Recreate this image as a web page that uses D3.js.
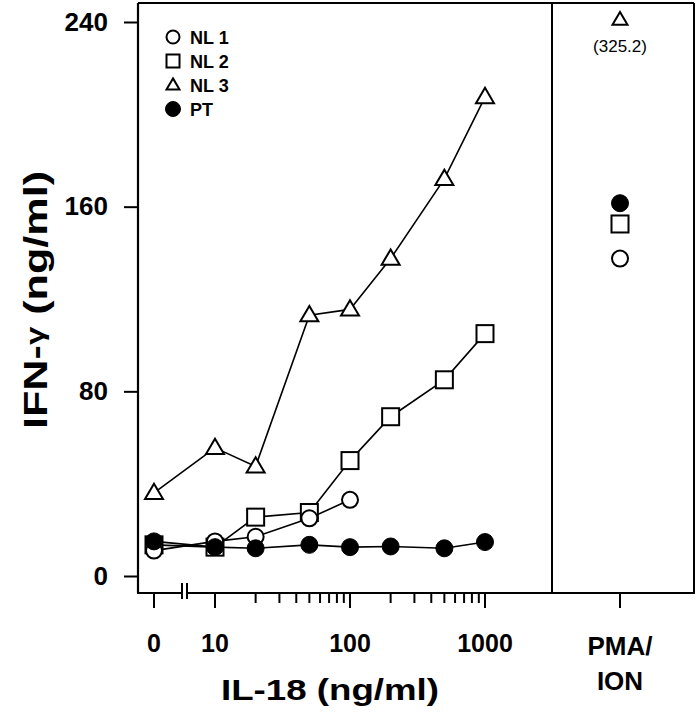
<!DOCTYPE html>
<html><head><meta charset="utf-8">
<script src="https://cdn.jsdelivr.net/npm/d3@7"></script>
<style>body{margin:0;background:#fff}svg{display:block;font-family:"Liberation Sans",Arial,sans-serif}</style>
</head><body>
<svg id="c" width="699" height="720"></svg>
<script>
// ---- data ----
const doses = [0, 10, 20, 50, 100, 200, 500, 1000];
const nl1 = [11, 15, 17, 25, 33];
const nl2 = [13.5, 12.5, 25.5, 27.5, 50, 69, 85, 105];
const nl3 = [36, 55.5, 47.5, 113, 115.5, 137.5, 172, 207.5];
const pt  = [15, 12.5, 12, 13.5, 12.5, 12.8, 12, 14.7];
const seriesNames = ["NL 1", "NL 2", "NL 3", "PT"];
const pmaValues = [137.5, 152.5, 325.2, 161.5]; // NL1, NL2, NL3, PT
const pmaCap = 241;
const yTicks = [0, 80, 160, 240];
const xMajorTicks = [10, 100, 1000];
const xMinorTicks = [20,30,40,50,60,70,80,90,200,300,400,500,600,700,800,900];
const xTickLabels = ["0", "10", "100", "1000"];

(function () {
// ---- layout ----
const svg = d3.select("#c");
const pLeft = 138, pTop = 3, pBottom = 593, pDivider = 552, pRight = 694;
const y = d3.scaleLinear().domain([0, 240]).range([576, 22]);
const xLog = d3.scaleLog().domain([10, 1000]).range([215, 485]);
const xZero = d3.scalePoint().domain([0]).range([154, 154]);
const xPos = d => d === 0 ? xZero(0) : xLog(d);
const xPma = d3.scalePoint().domain(["PMA/ION"]).range([620, 620]);

const black = "#000";

// frame
const g = svg.append("g");
g.append("line").attr("x1", pLeft).attr("x2", pRight).attr("y1", pTop).attr("y2", pTop).attr("stroke", black).attr("stroke-width", 2);
g.append("line").attr("x1", pLeft).attr("x2", pLeft).attr("y1", pTop).attr("y2", pBottom).attr("stroke", black).attr("stroke-width", 2.2);
g.append("line").attr("x1", pDivider).attr("x2", pDivider).attr("y1", pTop).attr("y2", pBottom).attr("stroke", black).attr("stroke-width", 2);
g.append("line").attr("x1", pRight).attr("x2", pRight).attr("y1", pTop).attr("y2", pBottom).attr("stroke", black).attr("stroke-width", 2);
// bottom axis with break
g.append("line").attr("x1", pLeft - 1).attr("x2", 182).attr("y1", pBottom).attr("y2", pBottom).attr("stroke", black).attr("stroke-width", 2.2);
g.append("line").attr("x1", 187).attr("x2", pRight + 1).attr("y1", pBottom).attr("y2", pBottom).attr("stroke", black).attr("stroke-width", 2.2);
[182, 187].forEach(bx => g.append("line").attr("x1", bx).attr("x2", bx).attr("y1", 583).attr("y2", 599).attr("stroke", black).attr("stroke-width", 2));

// y axis
const yAxis = d3.axisLeft(y).tickValues(yTicks).tickSize(14).tickPadding(16).tickFormat(d3.format("d"));
const ya = svg.append("g").attr("transform", `translate(${pLeft},0)`).call(yAxis);
ya.select(".domain").remove();
ya.selectAll(".tick line").attr("stroke-width", 2);
ya.selectAll(".tick text").attr("font-size", 26).attr("font-weight", "bold").attr("font-family", "Liberation Sans, Arial, sans-serif").attr("fill", black);

// x ticks
const xa = svg.append("g");
const majors = [0].concat(xMajorTicks);
xa.selectAll(".maj").data(majors).join("line")
  .attr("x1", d => xPos(d)).attr("x2", d => xPos(d)).attr("y1", pBottom).attr("y2", 608)
  .attr("stroke", black).attr("stroke-width", 2);
xa.selectAll(".min").data(xMinorTicks).join("line")
  .attr("x1", d => xPos(d)).attr("x2", d => xPos(d)).attr("y1", pBottom).attr("y2", 603)
  .attr("stroke", black).attr("stroke-width", 2);
xa.selectAll(".lab").data(majors).join("text")
  .attr("x", d => xPos(d)).attr("y", 652).attr("text-anchor", "middle")
  .attr("font-size", 25).attr("font-weight", "bold").text((d, i) => xTickLabels[i]);
// PMA tick
xa.append("line").attr("x1", xPma("PMA/ION")).attr("x2", xPma("PMA/ION")).attr("y1", pBottom).attr("y2", 608).attr("stroke", black).attr("stroke-width", 2);
const pmaLab = xa.append("text").attr("x", xPma("PMA/ION")).attr("text-anchor", "middle").attr("font-size", 26).attr("font-weight", "bold");
pmaLab.append("tspan").attr("x", xPma("PMA/ION")).attr("y", 655).text("PMA/");
pmaLab.append("tspan").attr("x", xPma("PMA/ION")).attr("y", 690).text("ION");

// axis titles
svg.append("text").attr("x", 330).attr("y", 700).attr("text-anchor", "middle")
  .attr("font-size", 30).attr("font-weight", "bold").attr("textLength", 218).attr("lengthAdjust", "spacingAndGlyphs")
  .text("IL-18 (ng/ml)");
const yt = svg.append("text").attr("transform", "translate(47,300) rotate(-90)").attr("text-anchor", "middle")
  .attr("font-size", 34).attr("font-weight", "bold").attr("textLength", 258).attr("lengthAdjust", "spacingAndGlyphs");
yt.append("tspan").text("IFN-");
yt.append("tspan").attr("font-size", 26).attr("dy", -3).text("γ");
yt.append("tspan").attr("dy", 3).text(" (ng/ml)");

// ---- markers ----
function drawMarker(sel, type, cx, cy, s) {
  if (type === "circle") {
    sel.append("circle").attr("cx", cx).attr("cy", cy).attr("r", s * 0.5).attr("fill", "#fff").attr("stroke", black).attr("stroke-width", 2);
  } else if (type === "square") {
    sel.append("rect").attr("x", cx - s / 2).attr("y", cy - s / 2).attr("width", s).attr("height", s).attr("fill", "#fff").attr("stroke", black).attr("stroke-width", 2);
  } else if (type === "triangle") {
    const h = s * 0.85;
    sel.append("path").attr("d", `M${cx},${cy - h * 0.6}L${cx + s / 2},${cy + h * 0.4}L${cx - s / 2},${cy + h * 0.4}Z`).attr("fill", "#fff").attr("stroke", black).attr("stroke-width", 2);
  } else {
    sel.append("circle").attr("cx", cx).attr("cy", cy).attr("r", s * 0.5).attr("fill", black).attr("stroke", black).attr("stroke-width", 1);
  }
}

const series = [
  {name: seriesNames[0], vals: nl1, type: "circle", size: 16},
  {name: seriesNames[1], vals: nl2, type: "square", size: 17},
  {name: seriesNames[2], vals: nl3, type: "triangle", size: 18},
  {name: seriesNames[3], vals: pt, type: "filled", size: 17}
];
const line = d3.line().x(d => xPos(d[0])).y(d => y(d[1]));
const plot = svg.append("g");
series.forEach(s => {
  const pts = s.vals.map((v, i) => [doses[i], v]);
  plot.append("path").attr("d", line(pts)).attr("fill", "none").attr("stroke", black).attr("stroke-width", 1.6);
});
[2, 1, 0, 3].forEach(k => {
  const s = series[k];
  s.vals.forEach((v, i) => drawMarker(plot, s.type, xPos(doses[i]), y(v), s.size));
});

// PMA/ION panel
[0, 1, 2, 3].forEach(k => {
  const s = series[k];
  const v = Math.min(pmaValues[k], pmaCap);
  drawMarker(plot, s.type, xPma("PMA/ION"), y(v), s.type === "triangle" ? 15 : s.size);
});
svg.append("text").attr("x", xPma("PMA/ION")).attr("y", 52).attr("text-anchor", "middle").attr("font-size", 17)
  .text("(" + d3.format(".1f")(pmaValues[2]) + ")");

// legend
const leg = svg.append("g");
const legY = [37, 61, 85, 109];
series.forEach((s, i) => {
  drawMarker(leg, s.type, 173, legY[i], s.type === "filled" ? 15 : 13);
  leg.append("text").attr("x", 190).attr("y", legY[i] + 7).attr("font-size", 18).attr("font-weight", "bold").text(s.name);
});
})();
</script>
</body></html>
